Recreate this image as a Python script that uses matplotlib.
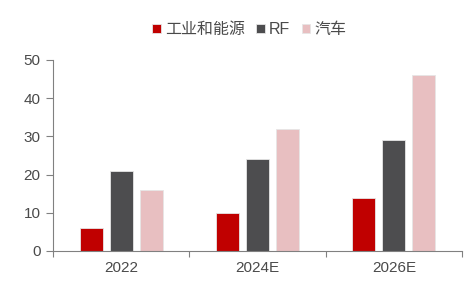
import matplotlib
matplotlib.use("Agg")
import matplotlib.pyplot as plt
import numpy as np

plt.rcParams['font.family'] = ['Liberation Sans', 'Noto Sans CJK SC', 'DejaVu Sans']

categories = ["2022", "2024E", "2026E"]
series_names = ["工业和能源", "RF", "汽车"]
industrial = [6, 10, 14]
rf = [21, 24, 29]
auto = [16, 32, 46]
colors = ["#C00000", "#4D4D4F", "#E8BFC1"]

fig = plt.figure(figsize=(4.66, 2.81), dpi=100)
ax = fig.add_axes([0.1137, 0.1068, 0.8777, 0.6797])

x = np.arange(len(categories))
w = 0.17
step = 0.22
for i, (vals, name, c) in enumerate(zip([industrial, rf, auto], series_names, colors)):
    ax.bar(x + (i - 1) * step, vals, width=w, color=c, label=name,
           edgecolor="#E6E6E6", linewidth=0.6)

ax.set_xlim(-0.5, len(categories) - 0.5)
ax.set_ylim(0, 50)
ax.set_yticks([0, 10, 20, 30, 40, 50])
ax.set_xticks(x)
ax.set_xticklabels(categories)
ax.set_xticks(np.arange(-0.5, len(categories)), minor=True)
ax.tick_params(axis='x', which='major', length=0, pad=7, labelsize=11, labelcolor="#4A4A4A")
ax.tick_params(axis='x', which='minor', length=4, color="#808080", width=0.8)
ax.tick_params(axis='y', length=5, color="#808080", width=0.8, labelsize=11, labelcolor="#4A4A4A", pad=4)
for s in ["top", "right"]:
    ax.spines[s].set_visible(False)
for s in ["left", "bottom"]:
    ax.spines[s].set_color("#808080")
    ax.spines[s].set_linewidth(0.8)

ax.legend(loc="lower center", bbox_to_anchor=(0.48, 1.045), ncol=3, frameon=False,
          fontsize=11.5, handlelength=0.55, handleheight=0.55, handletextpad=0.25,
          columnspacing=0.7, labelcolor="#4A4A4A")

fig.savefig("out.png", dpi=100)
